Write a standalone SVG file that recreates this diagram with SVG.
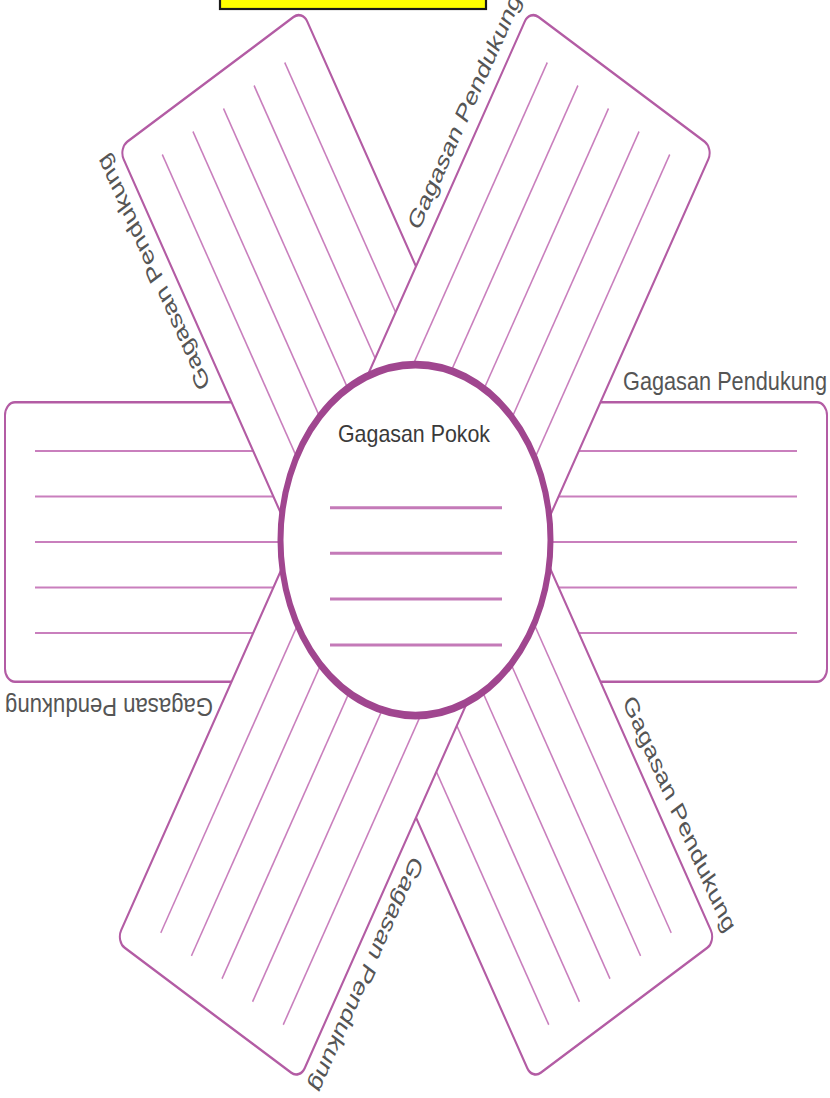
<svg xmlns="http://www.w3.org/2000/svg" width="830" height="1098" viewBox="0 0 830 1098">
<defs>
<style>
.strip{fill:#ffffff;stroke:#b35ca4;stroke-width:2}
.ln{stroke:#c97fbd;stroke-width:1.5;fill:none}
.cl{stroke:#c47ab8;stroke-width:2.3;fill:none}
.lbl{font-family:"Liberation Sans",Arial,sans-serif;font-size:20px;fill:#555555}
.main{font-family:"Liberation Sans",Arial,sans-serif;font-size:18px;fill:#3a3a3a}
</style>
</defs>
<rect width="830" height="1098" fill="#ffffff"/>
<g id="title-box">
<rect x="220" y="-5" width="266" height="14" fill="#ffff00" stroke="#1a1a1a" stroke-width="2.2"/>
</g>
<g id="connectors"/>
<g transform="translate(416,542) scale(1,1.3)">
<g id="strip-horizontal">
<rect class="strip" x="-411" y="-107.5" width="822" height="215" rx="10"/>
<line class="ln" x1="-381" y1="-70" x2="381" y2="-70"/>
<line class="ln" x1="-381" y1="-35" x2="381" y2="-35"/>
<line class="ln" x1="-381" y1="0" x2="381" y2="0"/>
<line class="ln" x1="-381" y1="35" x2="381" y2="35"/>
<line class="ln" x1="-381" y1="70" x2="381" y2="70"/>
</g>
<g id="strip-diagonal-a" transform="rotate(-30)">
<rect class="strip" x="-106" y="-411" width="212" height="827" rx="10"/>
<line class="ln" x1="-70.7" y1="-385" x2="-70.7" y2="388"/>
<line class="ln" x1="-35.3" y1="-385" x2="-35.3" y2="388"/>
<line class="ln" x1="0" y1="-385" x2="0" y2="388"/>
<line class="ln" x1="35.3" y1="-385" x2="35.3" y2="388"/>
<line class="ln" x1="70.7" y1="-385" x2="70.7" y2="388"/>
</g>
<g id="strip-diagonal-b" transform="rotate(30)">
<rect class="strip" x="-106" y="-411" width="212" height="827" rx="10"/>
<line class="ln" x1="-70.7" y1="-385" x2="-70.7" y2="388"/>
<line class="ln" x1="-35.3" y1="-385" x2="-35.3" y2="388"/>
<line class="ln" x1="0" y1="-385" x2="0" y2="388"/>
<line class="ln" x1="35.3" y1="-385" x2="35.3" y2="388"/>
<line class="ln" x1="70.7" y1="-385" x2="70.7" y2="388"/>
</g>
<g id="gagasan-pokok">
<circle cx="-0.5" cy="-1.5" r="135" fill="#ffffff" stroke="#a0468f" stroke-width="6"/>
<text class="main" x="-2" y="-77" text-anchor="middle" textLength="152" lengthAdjust="spacingAndGlyphs">Gagasan Pokok</text>
<line class="cl" x1="-86" y1="-26.4" x2="86" y2="-26.4"/>
<line class="cl" x1="-86" y1="8.6" x2="86" y2="8.6"/>
<line class="cl" x1="-86" y1="43.8" x2="86" y2="43.8"/>
<line class="cl" x1="-86" y1="79.2" x2="86" y2="79.2"/>
</g>
<g id="label-right">
<text class="lbl" x="207" y="-117" textLength="204" lengthAdjust="spacingAndGlyphs">Gagasan Pendukung</text>
</g>
<g id="label-left">
<text class="lbl" transform="translate(-203,120) rotate(180)" textLength="208" lengthAdjust="spacingAndGlyphs">Gagasan Pendukung</text>
</g>
<g id="label-top-left" transform="rotate(-30)">
<text class="lbl" transform="translate(-117,-208) rotate(-90)" textLength="206" lengthAdjust="spacingAndGlyphs">Gagasan Pendukung</text>
</g>
<g id="label-top-right" transform="rotate(30)">
<text class="lbl" transform="translate(-117,-208) rotate(-90)" textLength="206" lengthAdjust="spacingAndGlyphs">Gagasan Pendukung</text>
</g>
<g id="label-bottom-left" transform="rotate(30)">
<text class="lbl" transform="translate(117,210) rotate(90)" textLength="206" lengthAdjust="spacingAndGlyphs">Gagasan Pendukung</text>
</g>
<g id="label-bottom-right" transform="rotate(-30)">
<text class="lbl" transform="translate(117,210) rotate(90)" textLength="206" lengthAdjust="spacingAndGlyphs">Gagasan Pendukung</text>
</g>
</g>
</svg>
